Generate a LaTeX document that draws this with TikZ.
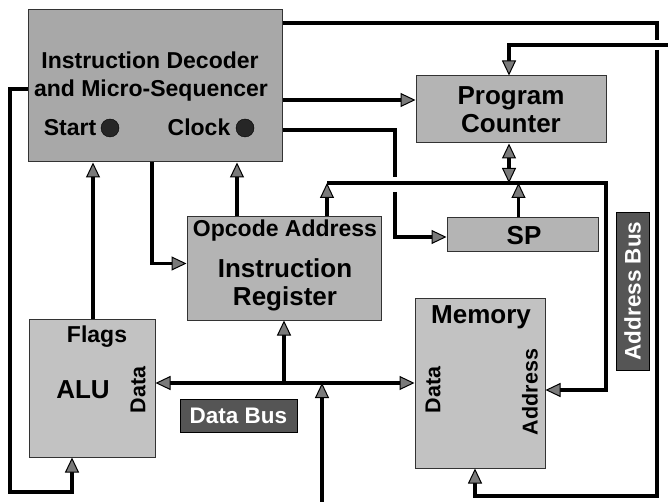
\documentclass[tikz,border=0pt]{standalone}
\usepackage{fontspec}
\setmainfont{Liberation Sans}
\usetikzlibrary{arrows.meta}
\definecolor{boxgray}{HTML}{B4B4B4}
\definecolor{decgray}{HTML}{A8A8A8}
\definecolor{lightgray2}{HTML}{C2C2C2}
\definecolor{labgray}{HTML}{555555}
\definecolor{tipgray}{HTML}{7A7A7A}
\begin{document}
\begin{tikzpicture}[x=1pt,y=-1pt,
  >={Triangle[length=15pt,width=14pt,line width=1pt,fill=tipgray]},
  unit/.style={draw=black!80, line width=1pt, fill=boxgray, inner sep=0pt},
  buslabel/.style={draw=black, line width=0.8pt, fill=labgray, text=white, inner sep=0pt,
     font=\bfseries\fontsize{22.5}{24}\selectfont},
  big/.style={font=\bfseries\fontsize{26}{28}\selectfont, inner sep=0pt, anchor=base},
  mid/.style={font=\bfseries\fontsize{23}{25}\selectfont, inner sep=0pt, anchor=base},
  side/.style={font=\bfseries\fontsize{21.5}{23}\selectfont, inner sep=0pt, rotate=90},
  conn/.style={line width=3.4pt},
  lamp/.style={circle, fill=black!85, draw=black, inner sep=0pt, minimum size=18pt}
]
\useasboundingbox (0,0) rectangle (668,502);

% ---------- boxes ----------
\node[unit, fill=decgray, minimum width=254pt, minimum height=152pt] (dec) at (155,86) {};
\node[unit, minimum width=190pt, minimum height=67pt] (pc) at (511,109.5) {};
\node[unit, minimum width=151pt, minimum height=34pt] (sp) at (522.5,235) {};
\node[unit, minimum width=194pt, minimum height=103pt] (ir) at (284,268.5) {};
\node[unit, fill=lightgray2, minimum width=126pt, minimum height=138pt] (alu) at (92,388) {};
\node[unit, fill=lightgray2, minimum width=130pt, minimum height=170pt] (mem) at (480,383) {};
\node[buslabel, minimum width=117pt, minimum height=33pt] (dbus) at (238.5,415.5) {Data Bus};
\node[buslabel, minimum width=158pt, minimum height=33pt, rotate=90] (abus) at (632.5,291) {Address Bus};

% ---------- texts ----------
\node[mid] (t1) at (150,69) {Instruction Decoder};
\node[mid] (t2) at (151,97) {and Micro-Sequencer};
\node[mid] (tstart) at (70,136) {Start};
\node[mid] (tclock) at (199,136) {Clock};
\node[lamp] (lstart) at (110,128) {};
\node[lamp] (lclock) at (245,128) {};
\node[big] (tpc1) at (511,105) {Program};
\node[big] (tpc2) at (511,133) {Counter};
\node[big] (tsp) at (524,245) {SP};
\node[mid] (tir0) at (285,237) {Opcode Address};
\node[big] (tir1) at (285,277) {Instruction};
\node[big] (tir2) at (285,305) {Register};
\node[mid] (tflags) at (97,342) {Flags};
\node[big] (talu) at (83,398) {ALU};
\node[side] (taludata) at (138,390) {Data};
\node[big] (tmem) at (481,323) {Memory};
\node[side] (tmemdata) at (433,390) {Data};
\node[side] (tmemaddr) at (530,392) {Address};

% ---------- coordinates ----------
\coordinate (topA) at (657,23);
\coordinate (topB) at (657,40);
\coordinate (pcin) at (668,45);
\coordinate (abA) at (657,50);
\coordinate (abB) at (657,496);
\coordinate (spA) at (395,177);
\coordinate (spB) at (395,192);
\coordinate (ibL) at (327,183);
\coordinate (ibR) at (606,183);
\coordinate (ibD) at (606,390);
\coordinate (dbL) at (0,383);
\coordinate (dbin) at (322,502);
\coordinate (loopA) at (10,89);
\coordinate (loopB) at (10,492);

% ---------- connectors ----------
\draw[conn] (dec.east |- topA) -- (topA) -- (topB);
\draw[conn,->] (pcin) -| ([xshift=-2pt]pc.north);
\draw[conn,->] (abA) -- (abB) -| ([xshift=-5pt]mem.south);
\draw[conn,->] (dec.east |- 0,100) -- (pc.west |- 0,100);
\draw[conn] (dec.east |- 0,130) -| (spA);
\draw[conn,->] (spB) |- ([yshift=-2pt]sp.west);
\draw[conn,->] (ibL) -- (ibR) -- (ibD) -- (mem.east |- ibD);
\draw[conn,->] (ir.north -| ibL) -- (ibL);
\draw[conn,<->] ([xshift=-2pt]pc.south) -- ([xshift=-2pt]pc.south |- ibL);
\draw[conn,->] ([xshift=-4pt]sp.north) -- ([xshift=-4pt]sp.north |- ibL);
\draw[conn,->] (alu.north -| 93,0) -- (dec.south -| 93,0);
\draw[conn,->] (dec.south -| 152,0) |- ([yshift=5pt]ir.west);
\draw[conn,->] (ir.north -| 237,0) -- (dec.south -| 237,0);
\draw[conn,->] (dec.west |- loopA) -- (loopA) -- (loopB) -| (alu.south -| 72,0);
\draw[conn,<->] (alu.east |- dbL) -- (mem.west |- dbL);
\draw[conn,->] (ir.south |- dbL) -- (ir.south);
\draw[conn,->] (dbin) -- (dbin |- dbL);
\end{tikzpicture}
\end{document}
